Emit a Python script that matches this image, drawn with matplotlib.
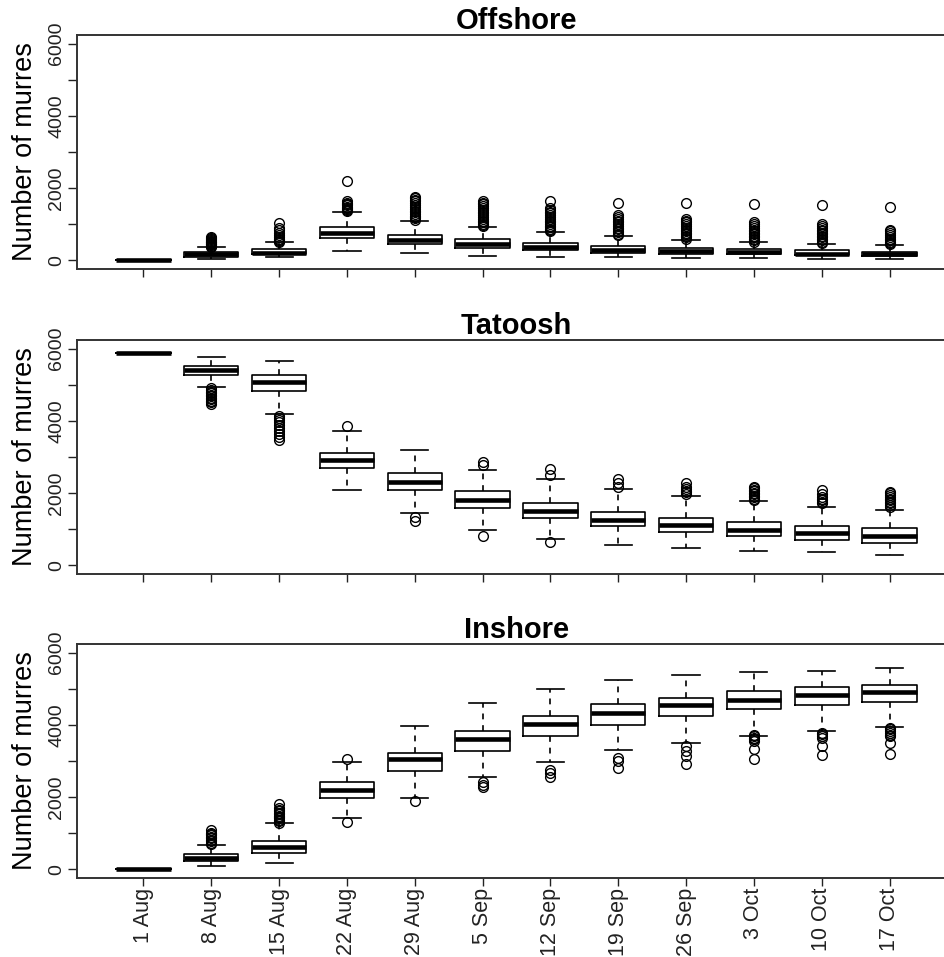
import matplotlib
matplotlib.use("Agg")
import matplotlib.pyplot as plt
from matplotlib.ticker import FixedLocator, FixedFormatter

plt.rcParams['font.family'] = ['Liberation Sans', 'DejaVu Sans']

dates = ['1 Aug', '8 Aug', '15 Aug', '22 Aug', '29 Aug', '5 Sep', '12 Sep',
         '19 Sep', '26 Sep', '3 Oct', '10 Oct', '17 Oct']

# Offshore
off_med = [0, 167, 213, 769, 574, 463, 361, 278, 259, 231, 185, 185]
off_q1 = [0, 93, 167, 630, 454, 352, 278, 204, 167, 167, 139, 130]
off_q3 = [0, 231, 324, 926, 713, 602, 491, 398, 352, 315, 278, 241]
off_lo = [0, 46, 83, 250, 213, 130, 102, 102, 74, 74, 46, 46]
off_hi = [0, 361, 500, 1352, 1102, 926, 787, 676, 574, 500, 463, 426]
off_fliers = [
    [],
    [380, 400, 420, 440, 460, 480, 500, 520, 545, 570, 600, 625, 650],
    [520, 545, 570, 600, 640, 700, 760, 830, 900, 1040],
    [1370, 1400, 1430, 1460, 1490, 1520, 1560, 1600, 1640, 2200],
    [1120, 1160, 1200, 1240, 1280, 1330, 1380, 1430, 1480, 1530, 1580, 1630, 1680, 1730, 1760],
    [940, 980, 1020, 1060, 1100, 1150, 1200, 1250, 1300, 1350, 1400, 1450, 1500, 1550, 1600, 1640],
    [800, 840, 880, 920, 960, 1000, 1050, 1100, 1150, 1200, 1250, 1300, 1350, 1400, 1440, 1640],
    [700, 740, 780, 820, 860, 900, 950, 1000, 1050, 1100, 1150, 1200, 1250, 1600],
    [600, 640, 680, 720, 760, 800, 850, 900, 950, 1000, 1050, 1100, 1150, 1600],
    [520, 560, 600, 640, 680, 720, 760, 800, 850, 900, 950, 1000, 1050, 1570],
    [480, 520, 560, 600, 640, 680, 720, 760, 800, 850, 900, 950, 1000, 1530],
    [440, 480, 520, 560, 600, 650, 700, 750, 800, 850, 1490],
]

# Tatoosh
tat_med = [5890, 5418, 5077, 2907, 2308, 1818, 1495, 1246, 1108, 969, 886, 812]
tat_q1 = [5890, 5280, 4818, 2704, 2095, 1588, 1301, 1089, 914, 803, 701, 628]
tat_q3 = [5890, 5529, 5261, 3120, 2557, 2068, 1735, 1486, 1311, 1209, 1098, 1024]
tat_lo = [5890, 4929, 4181, 2095, 1449, 969, 738, 572, 471, 397, 360, 277]
tat_hi = [5890, 5778, 5667, 3729, 3194, 2631, 2381, 2104, 1929, 1772, 1625, 1523]
tat_fliers = [
    [],
    [4480, 4520, 4560, 4600, 4640, 4680, 4720, 4760, 4800, 4850, 4900],
    [3480, 3560, 3640, 3720, 3800, 3880, 3960, 4020, 4080, 4140],
    [3870],
    [1340, 1230],
    [2860, 2770, 810],
    [2660, 2490, 650],
    [2400, 2280, 2170],
    [2290, 2170, 2120, 2070, 2020, 1985],
    [2170, 2130, 2090, 2050, 2010, 1970, 1930, 1890, 1850, 1820],
    [2080, 1970, 1880, 1840, 1800, 1760, 1720],
    [2030, 1990, 1950, 1900, 1850, 1800, 1760, 1720, 1680, 1620],
]

# Inshore
ins_med = [0, 324, 630, 2204, 3047, 3611, 4037, 4333, 4537, 4695, 4824, 4898]
ins_q1 = [0, 241, 444, 1972, 2713, 3287, 3685, 4000, 4250, 4435, 4537, 4639]
ins_q3 = [0, 426, 787, 2417, 3222, 3824, 4250, 4574, 4750, 4935, 5037, 5102]
ins_lo = [0, 102, 167, 1417, 1982, 2547, 2972, 3297, 3510, 3685, 3824, 3935]
ins_hi = [0, 676, 1278, 2972, 3963, 4593, 5000, 5250, 5389, 5463, 5491, 5565]
ins_fliers = [
    [],
    [700, 740, 780, 820, 860, 900, 940, 980, 1010, 1090],
    [1290, 1330, 1370, 1410, 1450, 1490, 1530, 1570, 1610, 1650, 1690, 1820],
    [3060, 1300],
    [1900],
    [2410, 2340, 2270],
    [2760, 2670, 2560],
    [3080, 2990, 2810],
    [3410, 3270, 3130, 2920],
    [3730, 3690, 3650, 3600, 3550, 3320, 3060],
    [3780, 3740, 3700, 3640, 3410, 3160],
    [3920, 3880, 3830, 3780, 3730, 3690, 3500, 3200],
]

panels = [
    ('Offshore', off_med, off_q1, off_q3, off_lo, off_hi, off_fliers),
    ('Tatoosh', tat_med, tat_q1, tat_q3, tat_lo, tat_hi, tat_fliers),
    ('Inshore', ins_med, ins_q1, ins_q3, ins_lo, ins_hi, ins_fliers),
]

W, H = 945, 957
fig = plt.figure(figsize=(W / 100, H / 100), dpi=100)
ax_left, ax_right = 77, 956
tops = [35, 340, 644]
ax_h = 234

yticks = [0, 1000, 2000, 3000, 4000, 5000, 6000]
ylabels = ['0', '', '2000', '', '4000', '', '6000']

for i, (title, med, q1, q3, lo, hi, fl) in enumerate(panels):
    top = tops[i]
    ax = fig.add_axes([ax_left / W, (H - top - ax_h) / H,
                       (ax_right - ax_left) / W, ax_h / H])
    stats = []
    for j in range(len(dates)):
        stats.append(dict(med=med[j], q1=q1[j], q3=q3[j], whislo=lo[j],
                          whishi=hi[j], fliers=fl[j], label=dates[j]))
    ax.bxp(stats, positions=range(1, len(dates) + 1), widths=0.8,
           capwidths=0.4, showfliers=True,
           boxprops=dict(color='black', linewidth=1.2),
           medianprops=dict(color='black', linewidth=3.3, solid_capstyle='butt'),
           whiskerprops=dict(color='black', linewidth=1.2, linestyle=(0, (3.5, 3.5))),
           capprops=dict(color='black', linewidth=1.2),
           flierprops=dict(marker='o', markerfacecolor='none',
                           markeredgecolor='black', markersize=7,
                           markeredgewidth=1.0))
    ax.set_xlim(0.02, 12.98)
    ax.set_ylim(-240, 6240)
    ax.yaxis.set_major_locator(FixedLocator(yticks))
    ax.yaxis.set_major_formatter(FixedFormatter(ylabels))
    ax.tick_params(axis='y', labelrotation=90, length=6.5, width=1.0,
                   labelsize=14, pad=2, color='#222222', labelcolor='#222222')
    ax.tick_params(axis='x', length=6, width=1.0, labelsize=15.5, pad=1,
                   color='#222222', labelcolor='#222222')
    for lab in ax.get_yticklabels():
        lab.set_va('center')
    if i < 2:
        ax.set_xticklabels([])
    else:
        ax.set_xticklabels(dates, rotation=90)
    for sp in ax.spines.values():
        sp.set_linewidth(1.4)
        sp.set_color('#333333')
    ax.set_title(title, fontsize=21, fontweight='bold', pad=3)
    ax.set_ylabel('Number of murres', fontsize=19.5)
    ax.yaxis.set_label_coords(-0.044, 0.5)

fig.savefig('out.png', dpi=100)
